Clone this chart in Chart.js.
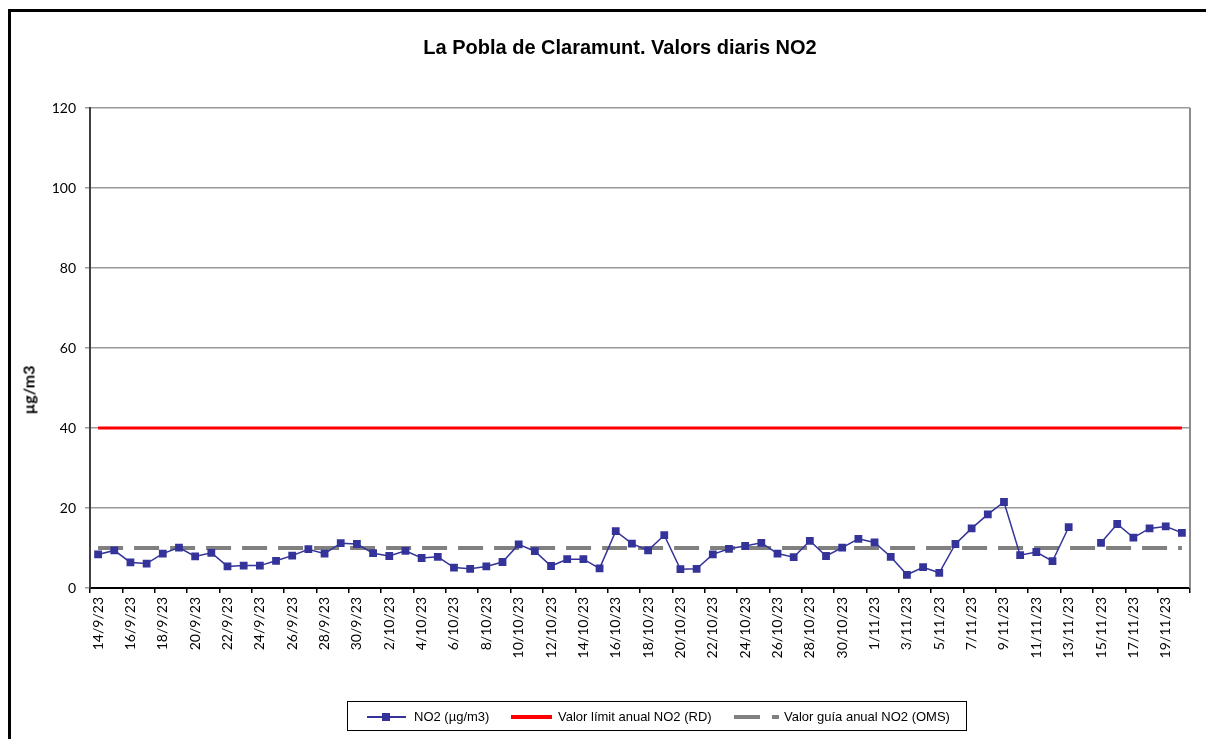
<!DOCTYPE html>
<html>
<head>
<meta charset="utf-8">
<script src="https://cdn.jsdelivr.net/npm/chart.js@4/dist/chart.umd.min.js"></script>
<style>
    body { margin: 0; background: #fff; }
    #caixa { position: relative; width: 1206px; height: 739px; overflow: hidden; }
    #marc { position: absolute; left: 8px; top: 9px; width: 1300px; height: 900px; border-left: 3px solid #000; border-top: 3px solid #000; }
    #grafic { position: absolute; left: 0; top: 0; }
    #titol { position: absolute; left: 0; width: 1240px; top: 36px; text-align: center; font: bold 20px "Liberation Sans", Arial, sans-serif; color: #000; }
    #eixy { position: absolute; left: 28px; top: 390px; transform: translate(-50%, -50%) rotate(-90deg); font: bold 16px Lato, sans-serif; white-space: nowrap; }
    #llegenda { position: absolute; left: 347px; top: 701px; width: 618px; height: 28px; border: 1px solid #000; font: 13px "Liberation Sans", Arial, sans-serif; }
    #llegenda span { position: absolute; top: 7px; white-space: nowrap; }
    .m { position: absolute; }
</style>
</head>
<body>
<div id="caixa">
    <div id="marc"></div>
    <canvas id="grafic" width="1206" height="739"></canvas>
    <div id="titol">La Pobla de Claramunt. Valors diaris NO2</div>
    <div id="eixy">µg/m3</div>
    <div id="llegenda">
        <div class="m" style="left:19px;top:14px;width:39px;height:2px;background:#333399"></div>
        <div class="m" style="left:34px;top:11px;width:8px;height:8px;background:#333399"></div>
        <span style="left:66px">NO2 (µg/m3)</span>
        <div class="m" style="left:163px;top:13px;width:41px;height:4px;background:#ff0000"></div>
        <span style="left:210px">Valor límit anual NO2 (RD)</span>
        <div class="m" style="left:386px;top:13px;width:26px;height:4px;background:#808080"></div>
        <div class="m" style="left:424px;top:13px;width:7px;height:4px;background:#808080"></div>
        <span style="left:436px">Valor guía anual NO2 (OMS)</span>
    </div>
</div>
<script>
//Dies del període (un valor diari)
const dies = [
    "14/9/23", "15/9/23", "16/9/23", "17/9/23", "18/9/23", "19/9/23", "20/9/23", "21/9/23", "22/9/23", "23/9/23",
    "24/9/23", "25/9/23", "26/9/23", "27/9/23", "28/9/23", "29/9/23", "30/9/23", "1/10/23", "2/10/23", "3/10/23",
    "4/10/23", "5/10/23", "6/10/23", "7/10/23", "8/10/23", "9/10/23", "10/10/23", "11/10/23", "12/10/23", "13/10/23",
    "14/10/23", "15/10/23", "16/10/23", "17/10/23", "18/10/23", "19/10/23", "20/10/23", "21/10/23", "22/10/23", "23/10/23",
    "24/10/23", "25/10/23", "26/10/23", "27/10/23", "28/10/23", "29/10/23", "30/10/23", "31/10/23", "1/11/23", "2/11/23",
    "3/11/23", "4/11/23", "5/11/23", "6/11/23", "7/11/23", "8/11/23", "9/11/23", "10/11/23", "11/11/23", "12/11/23",
    "13/11/23", "14/11/23", "15/11/23", "16/11/23", "17/11/23", "18/11/23", "19/11/23", "20/11/23",
];
//Valors diaris de NO2 (null = sense dada)
const no2 = [
    8.4, 9.4, 6.4, 6.1, 8.6, 10.1, 7.9, 8.8, 5.4, 5.6,
    5.6, 6.8, 8.1, 9.7, 8.6, 11.2, 11.0, 8.7, 8.0, 9.3,
    7.5, 7.8, 5.1, 4.8, 5.4, 6.5, 10.9, 9.2, 5.5, 7.2,
    7.2, 4.9, 14.2, 11.1, 9.4, 13.2, 4.7, 4.8, 8.4, 9.8,
    10.5, 11.3, 8.6, 7.7, 11.8, 8.0, 10.1, 12.3, 11.4, 7.8,
    3.3, 5.2, 3.8, 11.0, 14.9, 18.4, 21.5, 8.2, 9.0, 6.7,
    15.2, null, 11.3, 16.0, 12.6, 14.9, 15.4, 13.8,
];
//Valors de referència
const valorLimit = 40;
const valorGuia = 10;
//Marques de l'eix Y
const marquesY = [0, 20, 40, 60, 80, 100, 120];

const primer = dies[0];
const darrer = dies[dies.length - 1];

//Vora dreta de l'àrea del gràfic
const voraDreta = {
    id: "voraDreta",
    afterDraw(chart) {
        const { ctx, chartArea } = chart;
        ctx.save();
        ctx.strokeStyle = "#8c8c8c";
        ctx.lineWidth = 2;
        ctx.beginPath();
        ctx.moveTo(chartArea.right, chartArea.top);
        ctx.lineTo(chartArea.right, chartArea.bottom);
        ctx.stroke();
        ctx.restore();
    },
};

new Chart(document.getElementById("grafic"), {
    type: "line",
    data: {
        labels: dies,
        datasets: [
            {
                label: "Valor guía anual NO2 (OMS)",
                data: [{ x: primer, y: valorGuia }, { x: darrer, y: valorGuia }],
                borderColor: "#808080",
                borderWidth: 4,
                borderDash: [25, 11],
                pointRadius: 0,
                order: 3,
            },
            {
                label: "Valor límit anual NO2 (RD)",
                data: [{ x: primer, y: valorLimit }, { x: darrer, y: valorLimit }],
                borderColor: "#ff0000",
                borderWidth: 3,
                pointRadius: 0,
                order: 2,
            },
            {
                label: "NO2 (µg/m3)",
                data: no2,
                borderColor: "#333399",
                backgroundColor: "#333399",
                borderWidth: 1.5,
                pointStyle: "rect",
                pointRadius: 5.5,
                pointBorderWidth: 0,
                spanGaps: false,
                order: 1,
            },
        ],
    },
    options: {
        responsive: false,
        animation: false,
        layout: {
            padding: { top: 108, left: 16, right: 16, bottom: 0 },
        },
        plugins: {
            legend: { display: false },
            title: { display: false },
            tooltip: { enabled: false },
        },
        scales: {
            x: {
                offset: true,
                afterFit: (scale) => {
                    scale.height = 151;
                },
                grid: {
                    offset: true,
                    drawOnChartArea: false,
                    tickLength: 5,
                    lineWidth: 1.5,
                    color: (ctx) => (ctx.index === undefined || ctx.index % 2 === 0 ? "#000" : "rgba(0,0,0,0)"),
                },
                border: { color: "#000", width: 2 },
                ticks: {
                    autoSkip: false,
                    minRotation: 90,
                    maxRotation: 90,
                    padding: 4,
                    color: "#000",
                    font: { family: "Lato", size: 14 },
                    callback: function (valor, i) {
                        return i % 2 === 0 ? dies[i] : "";
                    },
                },
            },
            y: {
                min: 0,
                max: 120,
                afterFit: (scale) => {
                    scale.width = 74;
                },
                afterBuildTicks: (scale) => {
                    scale.ticks = marquesY.map((v) => ({ value: v }));
                },
                grid: {
                    color: "#999",
                    lineWidth: 1.5,
                    tickLength: 5,
                },
                border: { color: "#404040", width: 2 },
                ticks: {
                    padding: 9,
                    color: "#000",
                    font: { family: "Lato", size: 14 },
                },
            },
        },
    },
    plugins: [voraDreta],
});
</script>
</body>
</html>
